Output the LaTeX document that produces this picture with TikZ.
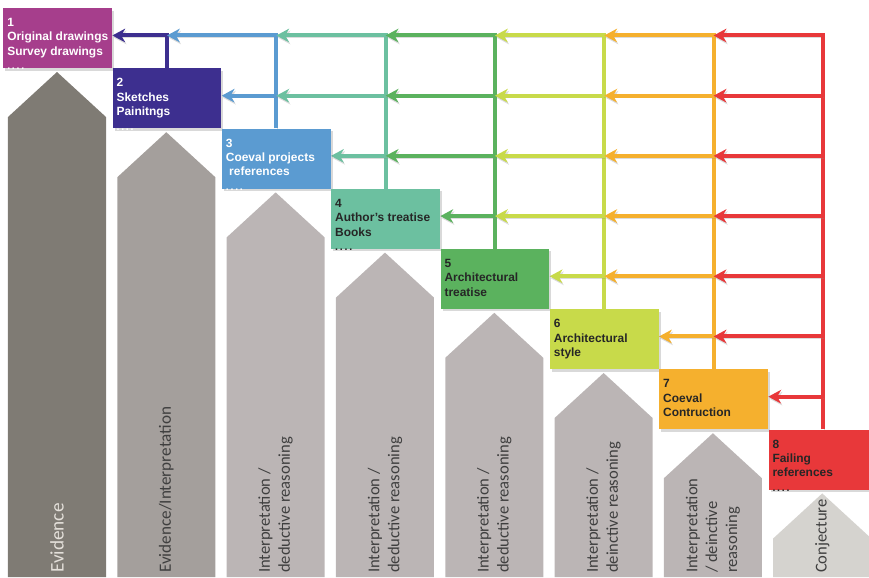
\documentclass[tikz,border=0pt]{standalone}
\usepackage{fontspec}
\setmainfont{Liberation Sans}
\newfontfamily\calibri{Carlito}
\usetikzlibrary{arrows.meta, calc, shadows, backgrounds}
\definecolor{cbox1}{HTML}{A63E8C}
\definecolor{cbox2}{HTML}{3D2F8F}
\definecolor{cbox3}{HTML}{5B9BD1}
\definecolor{cbox4}{HTML}{6CC0A0}
\definecolor{cbox5}{HTML}{5BB25E}
\definecolor{cbox6}{HTML}{C8DA4A}
\definecolor{cbox7}{HTML}{F5B02E}
\definecolor{cbox8}{HTML}{E8383A}
\definecolor{gdark}{HTML}{7F7B74}
\definecolor{gmid}{HTML}{A49F9C}
\definecolor{glight}{HTML}{BBB5B5}
\definecolor{gpale}{HTML}{D5D3CF}
\definecolor{gtext}{HTML}{3F3F3F}
\definecolor{gtextlight}{HTML}{E4E0DA}
\newcommand{\moredots}{{\fontsize{7.5}{7.5}\selectfont .\,.\,.\,.}}
\tikzset{
  box/.style={fill=#1, minimum width=2.72cm, minimum height=1.5cm, inner sep=0pt, anchor=north west,
    drop shadow={opacity=0.3, shadow xshift=0.05cm, shadow yshift=-0.06cm}},
  boxtext/.style={anchor=north west, align=left, inner xsep=0.1cm, inner ysep=0.25cm,
    font=\bfseries\fontsize{8.5}{10.3}\selectfont},
  link/.style={-{Stealth[length=0.32cm, width=0.34cm, inset=0.1cm]}, draw=#1, line width=0.1cm,
    preaction={draw=black!45, opacity=0.3, transform canvas={shift={(0.03,-0.05)}}}},
  pillar/.style={fill=#1},
  pillartext/.style={rotate=90, anchor=west, align=left, inner sep=0pt, text=gtext,
    font=\calibri\fontsize{11.8}{14.2}\selectfont},
}

\begin{document}
\begin{tikzpicture}
  \useasboundingbox (0,0) rectangle (21.725,-14.425);
  \foreach \k/\g in {1/gdark,2/gmid,3/glight,4/glight,5/glight,6/glight,7/glight,8/gpale} {
    \pgfmathsetmacro{\xl}{0.2+2.733*(\k-1)}
    \pgfmathsetmacro{\yt}{-1.8-1.505*(\k-1)}
    \fill[pillar=\g] (\xl,-14.425) -- (\xl,\yt-1.125) -- (\xl+1.225,\yt) -- (\xl+2.45,\yt-1.125) -- (\xl+2.45,-14.425) -- cycle;
  }
  \node[pillartext, text=gtextlight, font=\calibri\fontsize{13.7}{16}\selectfont] (p1) at (1.425,-14.33) {Evidence};
  \node[pillartext, font=\calibri\fontsize{12.2}{14.6}\selectfont] (p2) at (4.158,-14.33) {Evidence/Interpretation};
  \foreach \k in {3,4,5}
    \node[pillartext] (p\k) at ({1.425+2.733*(\k-1)},-14.33) {Interpretation /\\deductive reasoning};
  \node[pillartext] (p6) at ({1.425+2.733*5},-14.33) {Interpretation /\\deinctive reasoning};
  \node[pillartext] (p7) at ({1.425+2.733*6},-14.33) {Interpretation\\/ deinctive\\reasoning};
  \node[pillartext] (p8) at ({1.425+2.733*7},-14.33) {Conjecture};
  \foreach \k/\c/\txt in {1/white/{1\\Original drawings\\Survey drawings\\\moredots},
      2/white/{2\\Sketches\\Painitngs\\\moredots},
      3/white/{3\\Coeval projects\\~references\\\moredots},
      4/black!85/{4\\Author's treatise\\Books\\\moredots},
      5/black!85/{5\\Architectural\\treatise},
      6/black!85/{6\\Architectural\\style},
      7/black!85/{7\\Coeval\\Contruction},
      8/black!85/{8\\Failing\\references\\\moredots}} {
    \node[box=cbox\k] (b\k) at ({0.075+2.733*(\k-1)},{-0.2-1.505*(\k-1)}) {};
    \node[boxtext, text=\c] (t\k) at (b\k.north west) {\txt};
  }
  % feedback links
  \begin{scope}[on background layer]
    \foreach \k [evaluate=\k as \p using int(\k-1)] in {2,...,8}
      \foreach \j in {1,...,\p} {
        \ifnum\j=\p \coordinate (e) at ([yshift=0.07cm]b\j.east); \else \coordinate (e) at ([yshift=0.07cm]b\p.north |- b\j.east); \fi
        \ifnum\j=1 \draw[link=cbox\k] (b\k.north) |- (e);
        \else \draw[link=cbox\k] ([yshift=0.07cm]b\k.north |- b\j.east) -- (e); \fi
      }
  \end{scope}
\end{tikzpicture}
\end{document}
